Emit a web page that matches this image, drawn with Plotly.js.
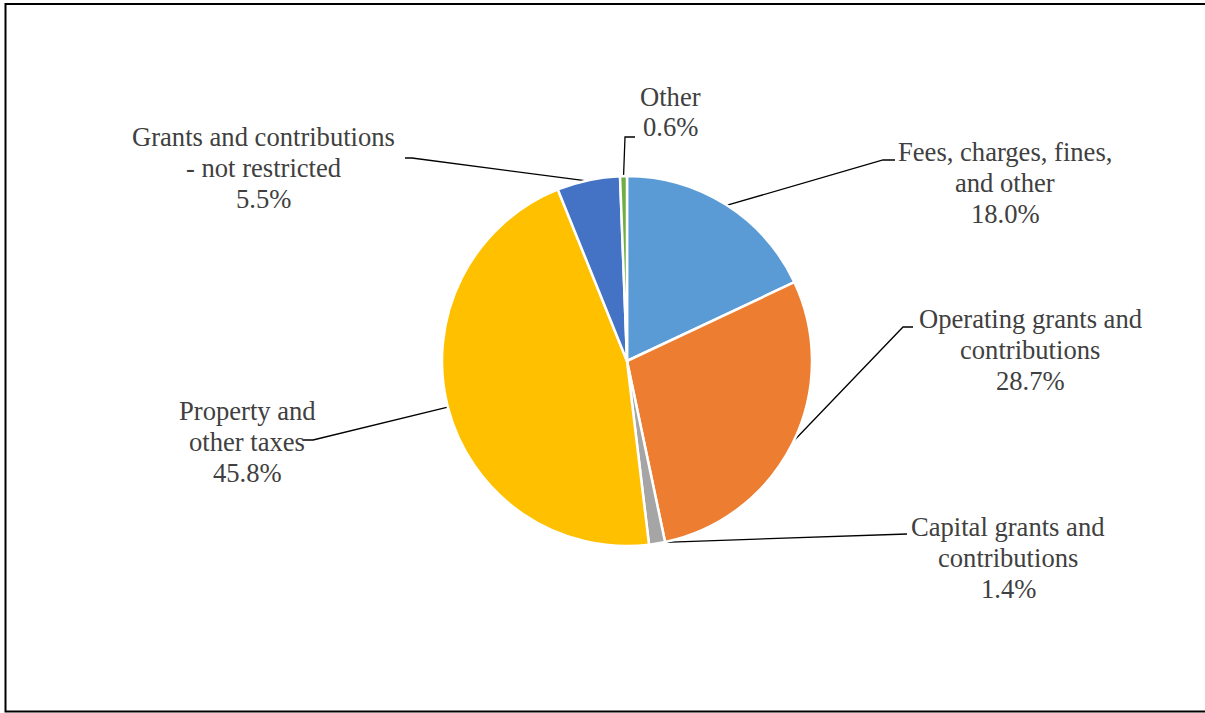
<!DOCTYPE html>
<html>
<head>
<meta charset="utf-8">
<script src="https://cdn.plot.ly/plotly-3.0.1.min.js"></script>
<style>
  html, body { margin: 0; padding: 0; background: #fff; }
  #chart { width: 1205px; height: 713px; }
</style>
</head>
<body>
<div id="chart"></div>
<script>
// ---- data ----
const categories = [
  "Fees, charges, fines,<br>and other",
  "Operating grants and<br>contributions",
  "Capital grants and<br>contributions",
  "Property and<br>other taxes",
  "Grants and contributions<br>- not restricted",
  "Other"
];
const shares = [18.0, 28.7, 1.4, 45.8, 5.5, 0.6];
const colors = ["#5B9BD5", "#ED7D31", "#A5A5A5", "#FFC000", "#4472C4", "#70AD47"];

// ---- layout constants (pixels) ----
const W = 1205, H = 713;
const cx = 627, cy = 361, R = 184;
const LINE_H = 30.8;
const FONT = {family: "Liberation Serif", size: 26.6, color: "#404040"};
// label block centres and leader-line end points (elbow, end)
const labelPos = [
  {x: 1005, y: 183, elbow: [883, 160], end: [895, 160]},
  {x: 1030, y: 350, elbow: [903, 327], end: [913, 327]},
  {x: 1008, y: 558, elbow: [898, 535], end: [907, 534]},
  {x: 247,  y: 442, elbow: [313, 440], end: [303, 440]},
  {x: 263,  y: 168, elbow: [412, 158], end: [405, 158]},
  {x: 670,  y: 112, elbow: [625, 137], end: [635, 137]}
];

const total = shares.reduce((a, b) => a + b, 0);
let cum = 0;
const lineTraces = [];
const annotations = [];
shares.forEach((v, i) => {
  const mid = (cum + v / 2) / total * 2 * Math.PI;
  cum += v;
  const sx = cx + R * Math.sin(mid);
  const sy = cy - R * Math.cos(mid);
  const lp = labelPos[i];
  lineTraces.push({
    type: "scatter", mode: "lines",
    x: [sx, lp.elbow[0], lp.end[0]],
    y: [sy, lp.elbow[1], lp.end[1]],
    line: {color: "#000", width: 1.3},
    hoverinfo: "skip", showlegend: false,
    xaxis: "x", yaxis: "y"
  });
  const lines = categories[i].split("<br>").concat([v.toFixed(1) + "%"]);
  lines.forEach((t, j) => {
    annotations.push({
      xref: "x", yref: "y", x: lp.x, y: lp.y + (j - (lines.length - 1) / 2) * LINE_H,
      text: t, showarrow: false, align: "center",
      xanchor: "center", yanchor: "middle",
      font: FONT
    });
  });
});

const pie = {
  type: "pie",
  values: shares,
  labels: categories.map(c => c.replace("<br>", " ")),
  sort: false,
  direction: "clockwise",
  rotation: 0,
  textinfo: "none",
  marker: {colors: colors, line: {color: "#ffffff", width: 2.5}},
  domain: {x: [(cx - R - 1) / W, (cx + R + 1) / W], y: [(H - cy - R - 1) / H, (H - cy + R + 1) / H]},
  showlegend: false,
  hoverinfo: "label+percent"
};

const layout = {
  width: W, height: H,
  margin: {l: 0, r: 0, t: 0, b: 0},
  paper_bgcolor: "#ffffff", plot_bgcolor: "rgba(0,0,0,0)",
  showlegend: false,
  font: {family: "Liberation Serif", color: "#404040"},
  xaxis: {range: [0, W], visible: false, fixedrange: true, domain: [0, 1]},
  yaxis: {range: [H, 0], visible: false, fixedrange: true, domain: [0, 1]},
  annotations: annotations,
  shapes: [{
    type: "path", xref: "x", yref: "y",
    path: "M 1215 4 L 5.5 4 L 5.5 711.5 L 1215 711.5",
    line: {color: "#000", width: 2}, fillcolor: "rgba(0,0,0,0)"
  }]
};

Plotly.newPlot("chart", [pie].concat(lineTraces), layout, {displayModeBar: false, staticPlot: true});
</script>
</body>
</html>
